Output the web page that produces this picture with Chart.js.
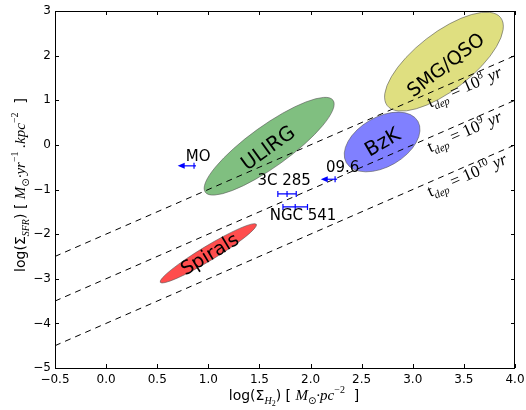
<!DOCTYPE html>
<html>
<head>
<meta charset="utf-8">
<script src="https://cdn.jsdelivr.net/npm/chart.js@4.4.1/dist/chart.umd.min.js"></script>
<style>html,body{margin:0;padding:0;background:#fff}canvas{display:block}</style>
</head>
<body>
<canvas id="chart" width="526" height="410"></canvas>
<script>
// Kennicutt-Schmidt plane: log(Sigma_H2) vs log(Sigma_SFR).

// constant depletion time lines, end points
const depletionExp = ["8", "9", "10"];
const lineX = [-0.5, 4.0];
const lineY = [[-2.5, 2.0], [-3.5, 1.0], [-4.5, 0.0]];
const depLabelX = [3.17, 3.17, 3.17];
const depLabelY = [0.83, -0.17, -1.17];

// galaxy populations: ends of the ellipse major axis + minor/major ratio
const regionNames = ["Spirals", "ULIRG", "BzK", "SMG/QSO"];
const regionX1 = [0.53, 0.97, 2.35, 2.75];
const regionY1 = [-3.08, -1.06, -0.40, 0.88];
const regionX2 = [1.47, 2.22, 3.05, 3.86];
const regionY2 = [-1.78, 1.00, 0.53, 2.85];
const regionRatio = [0.13, 0.26, 0.6, 0.4];
const regionLabelX = [1.02, 1.59, 2.71, 3.33];
const regionLabelY = [-2.47, -0.09, 0.04, 1.77];

// individual sources
const sourceNames = ["MO", "09.6", "3C 285", "NGC 541"];
const sourceX = [0.86, 2.24, 1.77, 1.85];
const sourceY = [-0.47, -0.77, -1.10, -1.39];
const sourceXerr = [0.16, 0.14, 0.09, 0.12];
const sourceUpperLimit = [true, true, false, false];
const sourceLabelX = [0.78, 2.15, 1.48, 1.60];
const sourceLabelY = [-0.27, -0.52, -0.82, -1.60];

const regionFill = ["rgba(255,77,77,1)", "rgba(128,191,128,1)", "rgba(128,128,255,1)", "rgba(223,223,128,1)"];
const regionFont = [19, 20, 20, 19];
const BLUE = "#0000ff";

const SANS = "14px 'DejaVu Sans'";
const MATH = "italic 15px 'Liberation Serif'";
const SUB = "italic 10px 'Liberation Serif'";
const SUB2 = "8px 'Liberation Serif'";
const SUP = "10px 'Liberation Serif'";
const SUN = "10px 'DejaVu Sans'";

function drawRich(ctx, parts, x, y, align) {
  let w = 0;
  parts.forEach(p => { ctx.font = p[1]; w += ctx.measureText(p[0]).width; });
  let cx = align === "center" ? x - w / 2 : x;
  parts.forEach(p => {
    ctx.font = p[1];
    ctx.fillText(p[0], cx, y + (p[2] || 0));
    cx += ctx.measureText(p[0]).width;
  });
}

const px = (chart, v) => chart.scales.x.getPixelForValue(v);
const py = (chart, v) => chart.scales.y.getPixelForValue(v);

const ellipses = {
  id: "ellipses",
  beforeDatasetsDraw(chart) {
    const ctx = chart.ctx;
    ctx.save();
    regionNames.forEach((n, i) => {
      const x1 = px(chart, regionX1[i]), y1 = py(chart, regionY1[i]);
      const x2 = px(chart, regionX2[i]), y2 = py(chart, regionY2[i]);
      const a = Math.hypot(x2 - x1, y2 - y1) / 2;
      ctx.beginPath();
      ctx.ellipse((x1 + x2) / 2, (y1 + y2) / 2, a, a * regionRatio[i], Math.atan2(y2 - y1, x2 - x1), 0, 2 * Math.PI);
      ctx.fillStyle = regionFill[i];
      ctx.fill();
      ctx.strokeStyle = "#555";
      ctx.lineWidth = 0.6;
      ctx.stroke();
    });
    ctx.restore();
  },
  afterDatasetsDraw(chart) {
    const ctx = chart.ctx;
    ctx.save();
    ctx.fillStyle = "#000";
    // population names, along the ellipse
    regionNames.forEach((n, i) => {
      const ang = Math.atan2(py(chart, regionY2[i]) - py(chart, regionY1[i]), px(chart, regionX2[i]) - px(chart, regionX1[i]));
      ctx.save();
      ctx.translate(px(chart, regionLabelX[i]), py(chart, regionLabelY[i]));
      ctx.rotate(ang);
      ctx.font = regionFont[i] + "px 'DejaVu Sans'";
      ctx.textAlign = "center";
      ctx.textBaseline = "middle";
      ctx.fillText(n, 0, 0);
      ctx.restore();
    });
    // error bars and upper limits
    ctx.strokeStyle = BLUE;
    ctx.fillStyle = BLUE;
    ctx.lineWidth = 1.2;
    sourceNames.forEach((n, i) => {
      const x = px(chart, sourceX[i]), y = py(chart, sourceY[i]);
      const lo = px(chart, sourceX[i] - sourceXerr[i]), hi = px(chart, sourceX[i] + sourceXerr[i]);
      ctx.beginPath();
      if (sourceUpperLimit[i]) {
        ctx.moveTo(x + 2, y); ctx.lineTo(lo + 5, y);
        ctx.stroke();
        ctx.beginPath();
        ctx.moveTo(lo, y); ctx.lineTo(lo + 7, y - 3); ctx.lineTo(lo + 7, y + 3); ctx.closePath();
        ctx.fill();
      } else {
        ctx.moveTo(lo, y); ctx.lineTo(hi, y);
        ctx.moveTo(lo, y - 3); ctx.lineTo(lo, y + 3);
        ctx.moveTo(hi, y - 3); ctx.lineTo(hi, y + 3);
        ctx.stroke();
      }
    });
    // source names
    ctx.fillStyle = "#000";
    ctx.font = "15px 'DejaVu Sans'";
    ctx.textAlign = "left";
    ctx.textBaseline = "middle";
    sourceNames.forEach((n, i) => ctx.fillText(n, px(chart, sourceLabelX[i]), py(chart, sourceLabelY[i])));
    // t_dep labels
    ctx.textBaseline = "alphabetic";
    const ang = Math.atan2(py(chart, lineY[0][1]) - py(chart, lineY[0][0]), px(chart, lineX[1]) - px(chart, lineX[0]));
    depletionExp.forEach((e, i) => {
      ctx.save();
      ctx.translate(px(chart, depLabelX[i]), py(chart, depLabelY[i]));
      ctx.rotate(ang);
      drawRich(ctx, [
        ["t", "17px 'Liberation Serif'"], ["dep", "italic 11px 'Liberation Serif'", 4], [" = ", "17px 'Liberation Serif'"],
        ["10", "17px 'Liberation Serif'"], [e, "11px 'Liberation Serif'", -7], [" yr", "italic 17px 'Liberation Serif'"]
      ], 0, 0, "left");
      ctx.restore();
    });
    ctx.restore();
  }
};

const frame = {
  id: "frame",
  afterDraw(chart) {
    const ctx = chart.ctx, a = chart.chartArea;
    ctx.save();
    ctx.strokeStyle = "#000";
    ctx.lineWidth = 1;
    ctx.strokeRect(a.left + 0.5, a.top + 0.5, a.right - a.left - 1, a.bottom - a.top);
    ctx.beginPath();
    chart.scales.x.ticks.forEach(t => {
      const x = Math.round(chart.scales.x.getPixelForValue(t.value)) + 0.5;
      ctx.moveTo(x, a.bottom); ctx.lineTo(x, a.bottom - 4);
      ctx.moveTo(x, a.top); ctx.lineTo(x, a.top + 4);
    });
    chart.scales.y.ticks.forEach(t => {
      const y = Math.round(chart.scales.y.getPixelForValue(t.value)) + 0.5;
      ctx.moveTo(a.left, y); ctx.lineTo(a.left + 4, y);
      ctx.moveTo(a.right, y); ctx.lineTo(a.right - 4, y);
    });
    ctx.stroke();
    // axis titles
    ctx.fillStyle = "#000";
    ctx.textBaseline = "alphabetic";
    drawRich(ctx, [
      ["log(Σ", SANS], ["H", SUB, 4], ["2", SUB2, 6], [") [ ", SANS],
      ["M", MATH], ["⊙", SUN, 4], ["·pc", MATH], ["−2", SUP, -7], ["  ]", SANS]
    ], 294, 400, "center");
    ctx.translate(25, 185);
    ctx.rotate(-Math.PI / 2);
    drawRich(ctx, [
      ["log(Σ", SANS], ["SFR", SUB, 4], [") [ ", SANS],
      ["M", MATH], ["⊙", SUN, 4], ["·yr", MATH], ["−1", SUP, -7], [" .kpc", MATH], ["−2", SUP, -7], ["  ]", SANS]
    ], 0, 0, "center");
    ctx.restore();
  }
};

const fmt = (v, d) => (v < 0 ? "−" : "") + Math.abs(v).toFixed(d);

const datasets = lineY.map(ys => ({
  type: "line",
  data: lineX.map((x, j) => ({ x, y: ys[j] })),
  borderColor: "#000",
  borderWidth: 1,
  borderDash: [6, 5],
  pointRadius: 0,
  fill: false
}));
datasets.push({
  type: "scatter",
  data: sourceX.map((x, i) => ({ x, y: sourceY[i] })),
  pointStyle: "line",
  rotation: 90,
  pointRadius: 3,
  borderColor: BLUE,
  borderWidth: 1.2
});

new Chart(document.getElementById("chart"), {
  type: "scatter",
  data: { datasets },
  options: {
    responsive: false,
    animation: false,
    layout: { padding: { top: 11, right: 11, left: 0, bottom: 0 } },
    plugins: { legend: { display: false }, tooltip: { enabled: false } },
    scales: {
      x: {
        type: "linear", min: -0.5, max: 4.0,
        grid: { display: false, drawTicks: false },
        border: { display: false },
        ticks: { stepSize: 0.5, padding: 5, color: "#000", font: { family: "DejaVu Sans", size: 12 }, callback: v => fmt(v, 1) },
        afterFit: s => { s.height = 42; s.paddingLeft = 0; s.paddingRight = 0; }
      },
      y: {
        type: "linear", min: -5, max: 3,
        grid: { display: false, drawTicks: false },
        border: { display: false },
        ticks: { stepSize: 1, padding: 4, color: "#000", font: { family: "DejaVu Sans", size: 12 }, callback: v => fmt(v, 0) },
        afterFit: s => { s.width = 55; s.paddingTop = 0; s.paddingBottom = 0; }
      }
    }
  },
  plugins: [ellipses, frame]
});
</script>
</body>
</html>
